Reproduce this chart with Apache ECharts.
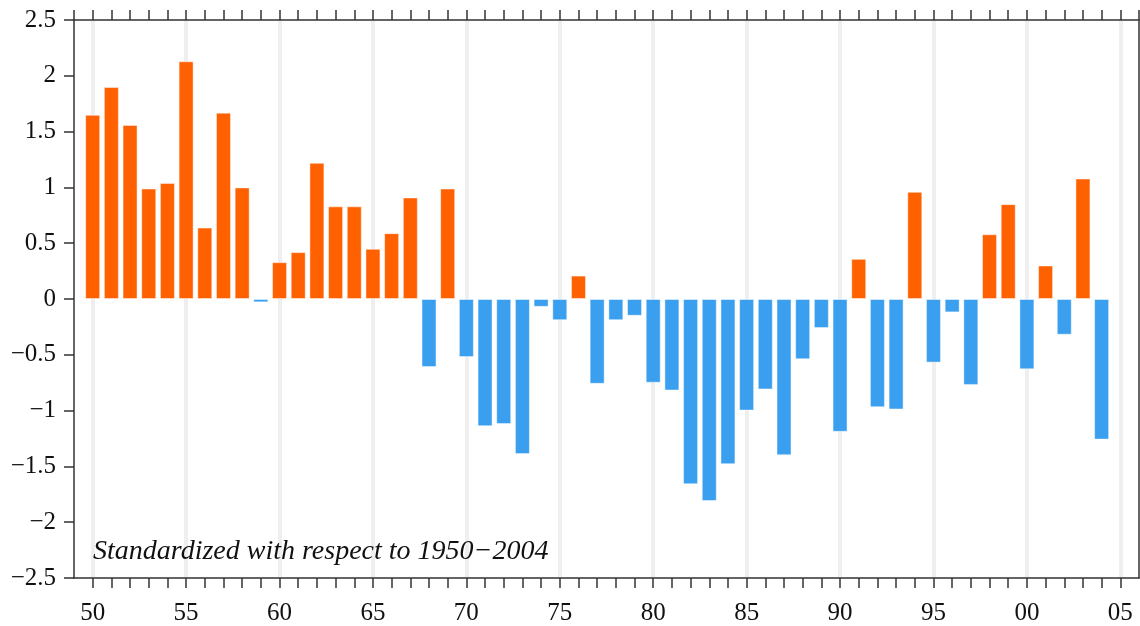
<!DOCTYPE html>
<html>
<head>
<meta charset="utf-8">
<script src="https://cdn.jsdelivr.net/npm/echarts@6/dist/echarts.min.js"></script>
<style>
  html, body { margin: 0; padding: 0; background: #fff; }
  #main { width: 1140px; height: 626px; }
</style>
</head>
<body>
<div id="main"></div>
<script>
// years 1950-2004
var years = [];
for (var y = 1950; y <= 2004; y++) years.push(y);
// standardized index values
var values = [
  1.65, 1.90, 1.56, 0.99, 1.04, 2.13, 0.64, 1.67, 1.00, -0.03,
  0.33, 0.42, 1.22, 0.83, 0.83, 0.45, 0.59, 0.91, -0.61, 0.99,
  -0.52, -1.14, -1.12, -1.39, -0.07, -0.19, 0.21, -0.76, -0.19, -0.15,
  -0.75, -0.82, -1.66, -1.81, -1.48, -1.00, -0.81, -1.40, -0.54, -0.26,
  -1.19, 0.36, -0.97, -0.99, 0.96, -0.57, -0.12, -0.77, 0.58, 0.85,
  -0.63, 0.30, -0.32, 1.08, -1.26
];
// light vertical guide lines every 5 years
var guideYears = [1950, 1955, 1960, 1965, 1970, 1975, 1980, 1985, 1990, 1995, 2000, 2005];
var note = "Standardized with respect to 1950\u22122004";

var posColor = "#ff6000";
var negColor = "#3a9fee";
var axisColor = "#333";
var fontFamily = "'Liberation Serif', 'DejaVu Serif', serif";

var barData = years.map(function (yr, i) { return [yr, values[i]]; });

var myChart = echarts.init(document.getElementById("main"));
myChart.setOption({
  animation: false,
  grid: { left: 74, right: 1, top: 20, bottom: 46, containLabel: false },
  xAxis: [
    {
      type: "value",
      position: "bottom",
      min: 1949,
      max: 2006,
      interval: 1,
      axisLine: { show: true, onZero: false, lineStyle: { color: axisColor, width: 1.5 } },
      axisTick: { show: true, inside: false, length: 10, lineStyle: { color: axisColor, width: 1.5 } },
      axisLabel: {
        margin: 23,
        color: "#111",
        fontSize: 25,
        fontFamily: fontFamily,
        showMinLabel: false,
        showMaxLabel: false,
        formatter: function (v) {
          if (v % 5 !== 0) return "";
          var s = String(v % 100);
          return s.length < 2 ? "0" + s : s;
        }
      },
      splitLine: { show: false }
    },
    {
      type: "value",
      position: "top",
      min: 1949,
      max: 2006,
      interval: 1,
      axisLine: { show: true, onZero: false, lineStyle: { color: axisColor, width: 1.5 } },
      axisTick: { show: true, inside: false, length: 10, lineStyle: { color: axisColor, width: 1.5 } },
      axisLabel: { show: false },
      splitLine: { show: false }
    }
  ],
  yAxis: [
    {
      type: "value",
      position: "left",
      min: -2.5,
      max: 2.5,
      interval: 0.5,
      axisLine: { show: true, onZero: false, lineStyle: { color: axisColor, width: 1.5 } },
      axisTick: { show: true, inside: false, length: 10, lineStyle: { color: axisColor, width: 1.5 } },
      axisLabel: {
        margin: 18,
        color: "#111",
        fontSize: 25,
        fontFamily: fontFamily,
        formatter: function (v) { return String(v).replace("-", "\u2212"); }
      },
      splitLine: { show: false }
    },
    {
      type: "value",
      position: "right",
      min: -2.5,
      max: 2.5,
      interval: 0.5,
      axisLine: { show: true, onZero: false, lineStyle: { color: axisColor, width: 1.5 } },
      axisTick: { show: false },
      axisLabel: { show: false },
      splitLine: { show: false }
    }
  ],
  graphic: [
    {
      type: "text",
      left: 93,
      top: 538,
      z: 10,
      style: {
        text: note,
        font: "italic 28px " + fontFamily,
        fill: "#111"
      }
    }
  ],
  series: [
    {
      // guide lines behind the bars
      type: "line",
      data: [],
      z: 0,
      silent: true,
      markLine: {
        z: 0,
        silent: true,
        symbol: ["none", "none"],
        label: { show: false },
        lineStyle: { color: "#efefef", width: 4, type: "solid" },
        data: guideYears.map(function (yr) { return { xAxis: yr }; })
      }
    },
    {
      type: "bar",
      data: barData,
      barWidth: 15,
      z: 2,
      itemStyle: {
        color: function (p) { return p.value[1] >= 0 ? posColor : negColor; },
        borderColor: "rgba(255,255,255,0.45)",
        borderWidth: 1
      }
    }
  ]
});
</script>
</body>
</html>
